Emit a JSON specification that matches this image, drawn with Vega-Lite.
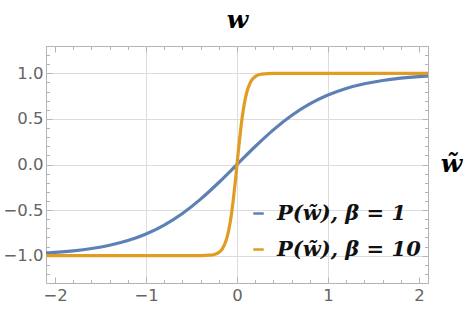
{
  "$schema": "https://vega.github.io/schema/vega-lite/v6.json",
  "width": 382,
  "height": 237,
  "autosize": "none",
  "padding": {"left": 46, "top": 46, "right": 39, "bottom": 30},
  "background": "white",
  "data": {"values": [
    {"x": -2.1, "y": -0.9705, "s": "P(w̃), β = 1"},
    {"x": -2.0, "y": -0.9640, "s": "P(w̃), β = 1"},
    {"x": -1.8, "y": -0.9468, "s": "P(w̃), β = 1"},
    {"x": -1.6, "y": -0.9217, "s": "P(w̃), β = 1"},
    {"x": -1.4, "y": -0.8854, "s": "P(w̃), β = 1"},
    {"x": -1.2, "y": -0.8337, "s": "P(w̃), β = 1"},
    {"x": -1.0, "y": -0.7616, "s": "P(w̃), β = 1"},
    {"x": -0.8, "y": -0.6640, "s": "P(w̃), β = 1"},
    {"x": -0.6, "y": -0.5370, "s": "P(w̃), β = 1"},
    {"x": -0.4, "y": -0.3799, "s": "P(w̃), β = 1"},
    {"x": -0.2, "y": -0.1974, "s": "P(w̃), β = 1"},
    {"x": 0.0, "y": 0.0, "s": "P(w̃), β = 1"},
    {"x": 0.2, "y": 0.1974, "s": "P(w̃), β = 1"},
    {"x": 0.4, "y": 0.3799, "s": "P(w̃), β = 1"},
    {"x": 0.6, "y": 0.5370, "s": "P(w̃), β = 1"},
    {"x": 0.8, "y": 0.6640, "s": "P(w̃), β = 1"},
    {"x": 1.0, "y": 0.7616, "s": "P(w̃), β = 1"},
    {"x": 1.2, "y": 0.8337, "s": "P(w̃), β = 1"},
    {"x": 1.4, "y": 0.8854, "s": "P(w̃), β = 1"},
    {"x": 1.6, "y": 0.9217, "s": "P(w̃), β = 1"},
    {"x": 1.8, "y": 0.9468, "s": "P(w̃), β = 1"},
    {"x": 2.0, "y": 0.9640, "s": "P(w̃), β = 1"},
    {"x": 2.1, "y": 0.9705, "s": "P(w̃), β = 1"},
    {"x": -2.1, "y": -1.0, "s": "P(w̃), β = 10"},
    {"x": -0.5, "y": -0.9999, "s": "P(w̃), β = 10"},
    {"x": -0.4, "y": -0.9993, "s": "P(w̃), β = 10"},
    {"x": -0.3, "y": -0.9951, "s": "P(w̃), β = 10"},
    {"x": -0.25, "y": -0.9866, "s": "P(w̃), β = 10"},
    {"x": -0.2, "y": -0.9640, "s": "P(w̃), β = 10"},
    {"x": -0.18, "y": -0.9468, "s": "P(w̃), β = 10"},
    {"x": -0.16, "y": -0.9217, "s": "P(w̃), β = 10"},
    {"x": -0.14, "y": -0.8854, "s": "P(w̃), β = 10"},
    {"x": -0.12, "y": -0.8337, "s": "P(w̃), β = 10"},
    {"x": -0.1, "y": -0.7616, "s": "P(w̃), β = 10"},
    {"x": -0.08, "y": -0.6640, "s": "P(w̃), β = 10"},
    {"x": -0.06, "y": -0.5370, "s": "P(w̃), β = 10"},
    {"x": -0.04, "y": -0.3799, "s": "P(w̃), β = 10"},
    {"x": -0.02, "y": -0.1974, "s": "P(w̃), β = 10"},
    {"x": 0.0, "y": 0.0, "s": "P(w̃), β = 10"},
    {"x": 0.02, "y": 0.1974, "s": "P(w̃), β = 10"},
    {"x": 0.04, "y": 0.3799, "s": "P(w̃), β = 10"},
    {"x": 0.06, "y": 0.5370, "s": "P(w̃), β = 10"},
    {"x": 0.08, "y": 0.6640, "s": "P(w̃), β = 10"},
    {"x": 0.1, "y": 0.7616, "s": "P(w̃), β = 10"},
    {"x": 0.12, "y": 0.8337, "s": "P(w̃), β = 10"},
    {"x": 0.14, "y": 0.8854, "s": "P(w̃), β = 10"},
    {"x": 0.16, "y": 0.9217, "s": "P(w̃), β = 10"},
    {"x": 0.18, "y": 0.9468, "s": "P(w̃), β = 10"},
    {"x": 0.2, "y": 0.9640, "s": "P(w̃), β = 10"},
    {"x": 0.25, "y": 0.9866, "s": "P(w̃), β = 10"},
    {"x": 0.3, "y": 0.9951, "s": "P(w̃), β = 10"},
    {"x": 0.4, "y": 0.9993, "s": "P(w̃), β = 10"},
    {"x": 0.5, "y": 0.9999, "s": "P(w̃), β = 10"},
    {"x": 2.1, "y": 1.0, "s": "P(w̃), β = 10"}
  ]},
  "config": {
    "view": {"stroke": "#b4b4b4", "strokeWidth": 1},
    "axis": {
      "domain": false,
      "grid": false,
      "labels": false,
      "ticks": false,
      "title": null,
      "labelColor": "#646464",
      "labelFont": "DejaVu Sans",
      "labelFontSize": 16.5,
      "tickColor": "#b4b4b4",
      "gridColor": "#dcdcdc",
      "gridWidth": 1
    }
  },
  "resolve": {"axis": {"x": "independent", "y": "independent"}},
  "layer": [
    {
      "mark": {"type": "line", "strokeWidth": 3.2, "interpolate": "monotone", "clip": true},
      "encoding": {
        "x": {"field": "x", "type": "quantitative",
              "scale": {"domain": [-2.1, 2.1], "nice": false, "zero": false},
              "axis": {"orient": "bottom", "values": [-1, 0, 1], "grid": true}},
        "y": {"field": "y", "type": "quantitative",
              "scale": {"domain": [-1.3, 1.3], "nice": false, "zero": false},
              "axis": {"orient": "left", "values": [-1, -0.5, 0, 0.5, 1], "grid": true}},
        "color": {"field": "s", "type": "nominal",
                  "scale": {"domain": ["P(w̃), β = 1", "P(w̃), β = 10"], "range": ["#5E81B5", "#E19C24"]},
                  "legend": {"orient": "none", "legendX": 202, "legendY": 157, "title": null,
                             "symbolType": "stroke", "symbolStrokeWidth": 2.5, "symbolSize": 110,
                             "labelFont": "DejaVu Serif", "labelFontStyle": "italic", "labelFontWeight": "bold",
                             "labelFontSize": 21, "labelColor": "#111111", "labelOffset": 8, "rowPadding": 14,
                             "labelLimit": 300}}
      }
    },
    {
      "mark": {"type": "line", "opacity": 0},
      "encoding": {
        "x": {"field": "x", "type": "quantitative",
              "axis": {"orient": "bottom", "values": [-2, -1, 0, 1, 2], "labels": true, "labelPadding": 4}},
        "y": {"field": "y", "type": "quantitative",
              "axis": {"orient": "left", "values": [-1, -0.5, 0, 0.5, 1], "labels": true, "format": ".1f", "labelPadding": 3}},
        "detail": {"field": "s"}
      }
    },
    {
      "mark": {"type": "line", "opacity": 0},
      "encoding": {
        "x": {"field": "x", "type": "quantitative",
              "axis": {"orient": "bottom", "values": [-2, -1, 0, 1, 2], "ticks": true, "tickSize": -6}},
        "y": {"field": "y", "type": "quantitative",
              "axis": {"orient": "left", "values": [-1, -0.5, 0, 0.5, 1], "ticks": true, "tickSize": -6}},
        "detail": {"field": "s"}
      }
    },
    {
      "mark": {"type": "line", "opacity": 0},
      "encoding": {
        "x": {"field": "x", "type": "quantitative",
              "axis": {"orient": "bottom", "values": [-1.8, -1.6, -1.4, -1.2, -0.8, -0.6, -0.4, -0.2, 0.2, 0.4, 0.6, 0.8, 1.2, 1.4, 1.6, 1.8], "ticks": true, "tickSize": -3.5}},
        "y": {"field": "y", "type": "quantitative",
              "axis": {"orient": "left", "values": [-1.3, -1.2, -1.1, -0.9, -0.8, -0.7, -0.6, -0.4, -0.3, -0.2, -0.1, 0.1, 0.2, 0.3, 0.4, 0.6, 0.7, 0.8, 0.9, 1.1, 1.2, 1.3], "ticks": true, "tickSize": -3.5}},
        "detail": {"field": "s"}
      }
    },
    {
      "mark": {"type": "line", "opacity": 0},
      "encoding": {
        "x": {"field": "x", "type": "quantitative",
              "axis": {"orient": "top", "values": [-2, -1, 0, 1, 2], "ticks": true, "tickSize": -6,
                       "title": "w", "titleFont": "DejaVu Serif", "titleFontStyle": "italic", "titleFontWeight": "bold",
                       "titleFontSize": 25, "titleColor": "#000000", "titleX": 191, "titleY": -19, "titleBaseline": "alphabetic", "titleAlign": "center"}},
        "y": {"field": "y", "type": "quantitative",
              "axis": {"orient": "right", "values": [-1, -0.5, 0, 0.5, 1], "ticks": true, "tickSize": -6,
                       "title": "w̃", "titleFont": "DejaVu Serif", "titleFontStyle": "italic", "titleFontWeight": "bold",
                       "titleFontSize": 25, "titleColor": "#000000", "titleAngle": 0, "titleX": 23, "titleY": 125,
                       "titleBaseline": "alphabetic", "titleAlign": "center"}},
        "detail": {"field": "s"}
      }
    },
    {
      "mark": {"type": "line", "opacity": 0},
      "encoding": {
        "x": {"field": "x", "type": "quantitative",
              "axis": {"orient": "top", "values": [-1.8, -1.6, -1.4, -1.2, -0.8, -0.6, -0.4, -0.2, 0.2, 0.4, 0.6, 0.8, 1.2, 1.4, 1.6, 1.8], "ticks": true, "tickSize": -3.5}},
        "y": {"field": "y", "type": "quantitative",
              "axis": {"orient": "right", "values": [-1.3, -1.2, -1.1, -0.9, -0.8, -0.7, -0.6, -0.4, -0.3, -0.2, -0.1, 0.1, 0.2, 0.3, 0.4, 0.6, 0.7, 0.8, 0.9, 1.1, 1.2, 1.3], "ticks": true, "tickSize": -3.5}},
        "detail": {"field": "s"}
      }
    }
  ]
}
